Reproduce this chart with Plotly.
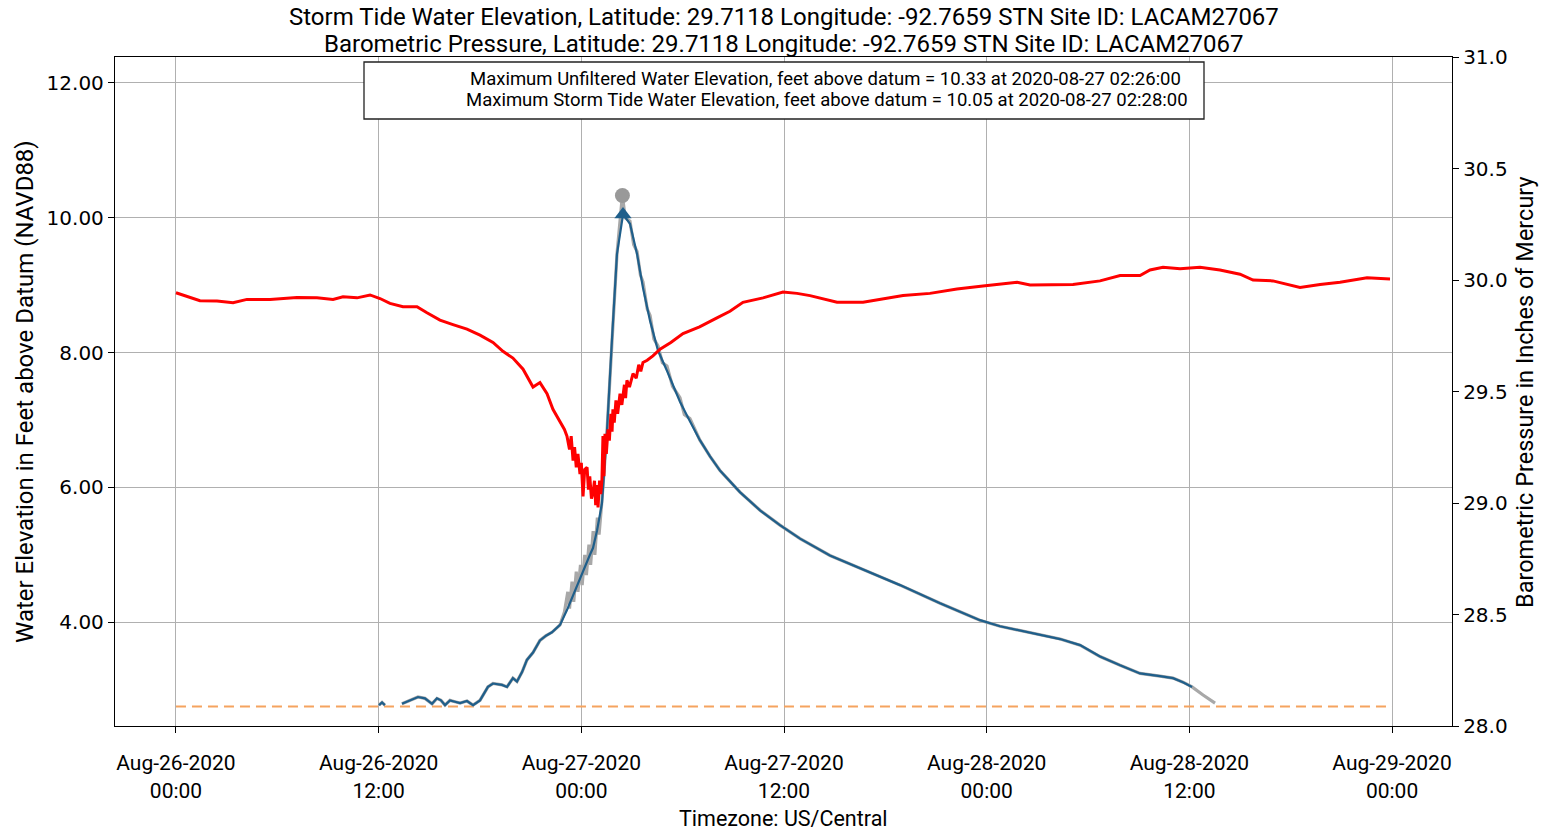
import pandas as pd
import plotly.graph_objects as go

# ---------------- data (hours since 2020-08-26 00:00 US/Central) ----------------
storm_tide_hours = [12.02, 12.20, 12.37, 12.80, 13.38, 13.86, 14.33, 14.74, 15.16, 15.45, 15.69, 15.93,
                    16.22, 16.52, 16.82, 17.23, 17.59, 18.00, 18.47, 18.77, 19.30, 19.60, 19.95, 20.19,
                    20.49, 20.78, 21.14, 21.55, 21.91, 22.26, 22.74, 23.15, 23.62, 24.10, 24.51, 24.69,
                    24.93, 25.22, 25.52, 25.82, 26.11, 26.47, 26.88, 27.30, 27.65, 28.07, 28.54, 29.07,
                    29.84, 30.43, 31.02, 31.62, 32.21, 33.39, 34.58, 35.76, 36.95, 38.72, 40.50, 42.87,
                    45.24, 47.60, 48.79, 51.16, 52.35, 53.53, 54.71, 55.90, 57.08, 58.26, 59.03, 59.62,
                    60.16]
storm_tide_ft = [2.77, 2.81, 2.77, None, 2.79, 2.84, 2.89, 2.87, 2.79, 2.87, 2.84, 2.77,
                 2.84, 2.82, 2.80, 2.83, 2.77, 2.84, 3.04, 3.09, 3.07, 3.04, 3.17, 3.12,
                 3.26, 3.44, 3.55, 3.73, 3.80, 3.85, 3.96, 4.18, 4.47, 4.77, 5.00, 5.10,
                 5.36, 5.76, 6.84, 8.22, 9.46, 10.05, 9.91, 9.46, 8.96, 8.47, 8.03, 7.73,
                 7.27, 6.98, 6.70, 6.46, 6.25, 5.93, 5.66, 5.44, 5.24, 4.99, 4.80, 4.55,
                 4.28, 4.03, 3.94, 3.82, 3.75, 3.66, 3.49, 3.36, 3.24, 3.20, 3.17, 3.11,
                 3.04]

unfiltered_hours = [12.02, 12.20, 12.37, 12.80, 13.38, 13.86, 14.33, 14.74, 15.16, 15.45, 15.69, 15.93,
                    16.22, 16.52, 16.82, 17.23, 17.59, 18.00, 18.47, 18.77, 19.30, 19.60, 19.95, 20.19,
                    20.49, 20.78, 21.14, 21.55, 21.91, 22.26, 22.74, 23.00, 23.20, 23.30, 23.45, 23.55,
                    23.70, 23.80, 23.95, 24.05, 24.20, 24.30, 24.45, 24.55, 24.70, 24.80, 24.95, 25.05,
                    25.22, 25.52, 25.82, 26.11, 26.43, 26.60, 26.88, 27.10, 27.30, 27.50, 27.65, 27.90,
                    28.07, 28.30, 28.54, 28.80, 29.07, 29.40, 29.84, 30.10, 30.43, 31.02, 31.62, 32.21,
                    33.39, 34.58, 35.76, 36.95, 38.72, 40.50, 42.87, 45.24, 47.60, 48.79, 51.16, 52.35,
                    53.53, 54.71, 55.90, 57.08, 58.26, 59.03, 59.62, 60.16, 60.81, 61.52]
unfiltered_ft = [2.77, 2.81, 2.77, None, 2.79, 2.84, 2.89, 2.87, 2.79, 2.87, 2.84, 2.77,
                 2.84, 2.82, 2.80, 2.83, 2.77, 2.84, 3.04, 3.09, 3.07, 3.04, 3.17, 3.12,
                 3.26, 3.44, 3.55, 3.73, 3.80, 3.85, 3.96, 4.15, 4.45, 4.20, 4.60, 4.30,
                 4.75, 4.45, 4.85, 4.55, 5.00, 4.70, 5.15, 4.85, 5.35, 5.00, 5.55, 5.30,
                 5.80, 6.84, 8.22, 9.46, 10.33, 10.00, 9.95, 9.60, 9.50, 9.15, 9.05, 8.65,
                 8.55, 8.20, 8.10, 7.85, 7.80, 7.50, 7.33, 7.08, 7.02, 6.70, 6.46, 6.25,
                 5.93, 5.66, 5.44, 5.24, 4.99, 4.80, 4.55, 4.28, 4.03, 3.94, 3.82, 3.75,
                 3.66, 3.49, 3.36, 3.24, 3.20, 3.17, 3.11, 3.04, 2.92, 2.80]

max_unfiltered_hour = 26.433   # 2020-08-27 02:26
max_unfiltered_ft = 10.33
max_storm_tide_hour = 26.467   # 2020-08-27 02:28
max_storm_tide_ft = 10.05

sensor_min_hours = [0.0, 72.0]
sensor_min_ft = [2.75, 2.75]

pressure_hours = [0.0, 0.65, 1.42, 2.43, 3.38, 4.20, 5.57, 7.16, 8.35, 9.30, 9.89, 10.72, 11.49, 12.08,
                  12.67, 13.44, 14.27, 14.86, 15.63, 16.40, 17.23, 18.00, 18.77, 19.36, 19.95, 20.55,
                  21.14, 21.55, 21.97, 22.32, 22.74, 23.00, 23.15, 23.30, 23.40, 23.51, 23.60, 23.70,
                  23.80, 23.92, 24.00, 24.10, 24.20, 24.34, 24.42, 24.50, 24.60, 24.69, 24.78, 24.85,
                  24.92, 24.99, 25.08, 25.15, 25.22, 25.28, 25.34, 25.40, 25.48, 25.58, 25.66, 25.75,
                  25.82, 25.87, 25.95, 26.05, 26.15, 26.29, 26.40, 26.55, 26.62, 26.70, 26.85, 27.06,
                  27.25, 27.40, 27.52, 27.65, 27.90, 28.24, 28.66, 29.30, 30.02, 31.00, 32.03, 32.80,
                  33.57, 34.76, 35.94, 36.77, 37.54, 38.31, 39.14, 40.68, 41.86, 43.05, 44.64, 46.24,
                  47.78, 48.79, 49.80, 50.57, 51.75, 53.11, 54.71, 55.90, 57.08, 57.67, 58.44, 59.45,
                  60.63, 61.81, 63.00, 63.77, 64.95, 66.55, 67.74, 68.92, 70.52, 71.88]
pressure_inhg = [29.943, 29.928, 29.907, 29.906, 29.898, 29.913, 29.913, 29.922, 29.920, 29.913, 29.925,
                 29.920, 29.933, 29.917, 29.895, 29.880, 29.880, 29.853, 29.820, 29.800, 29.780, 29.753,
                 29.720, 29.680, 29.650, 29.600, 29.520, 29.540, 29.490, 29.420, 29.360, 29.330, 29.300,
                 29.24, 29.30, 29.19, 29.25, 29.16, 29.22, 29.13, 29.18, 29.03, 29.15, 29.16, 29.06,
                 29.12, 29.02, 29.045, 29.10, 28.99, 29.08, 28.98, 29.10, 29.04, 29.10, 29.30, 29.12,
                 29.31, 29.22, 29.33, 29.28, 29.40, 29.32, 29.42, 29.36, 29.46, 29.40, 29.49, 29.44,
                 29.53, 29.47, 29.55, 29.52, 29.58, 29.56, 29.62, 29.59, 29.63, 29.64, 29.66, 29.69,
                 29.72, 29.76, 29.79, 29.83, 29.86, 29.90, 29.92, 29.946, 29.94, 29.93, 29.915, 29.90,
                 29.90, 29.915, 29.93, 29.94, 29.96, 29.973, 29.982, 29.99, 29.978, 29.98, 29.98,
                 29.996, 30.02, 30.02, 30.045, 30.057, 30.05, 30.057, 30.045, 30.026, 30.00, 29.996,
                 29.967, 29.98, 29.99, 30.01, 30.005]

tick_hours = [0, 12, 24, 36, 48, 60, 72]
tick_labels = ["Aug-26-2020<br>00:00", "Aug-26-2020<br>12:00", "Aug-27-2020<br>00:00",
               "Aug-27-2020<br>12:00", "Aug-28-2020<br>00:00", "Aug-28-2020<br>12:00",
               "Aug-29-2020<br>00:00"]

title_lines = ["Storm Tide Water Elevation, Latitude: 29.7118 Longitude: -92.7659 STN Site ID: LACAM27067",
               "Barometric Pressure, Latitude: 29.7118 Longitude: -92.7659 STN Site ID: LACAM27067"]
note_lines = ["Maximum Unfiltered Water Elevation, feet above datum = 10.33 at 2020-08-27 02:26:00",
              "Maximum Storm Tide Water Elevation, feet above datum = 10.05 at 2020-08-27 02:28:00"]
x_title = "Timezone: US/Central"
y_title = "Water Elevation in Feet above Datum (NAVD88)"
y2_title = "Barometric Pressure in Inches of Mercury"

# ---------------- helpers ----------------
BASE = pd.Timestamp("2020-08-26 00:00")


def to_time(hours):
    return [BASE + pd.Timedelta(hours=h) for h in hours]


NARROW = "Roboto, Liberation Sans, sans-serif"
WIDE = "DejaVu Sans, Verdana, sans-serif"
BLUE = "#1f5f8b"
GRAY = "#a8a8a8"
GRID = "#b0b0b0"

FW, FH = 1543, 832
PL, PR, PT, PB = 115, 1452, 57, 726
PW, PH = PR - PL, PB - PT


def px_x(x):
    return (x - PL) / PW


def px_y(y):
    return 1 - (y - PT) / PH


fig = go.Figure()

fig.add_trace(go.Scatter(x=to_time(sensor_min_hours), y=sensor_min_ft, mode="lines",
                         line=dict(color="#f5a35f", width=2, dash="10px,6px"),
                         showlegend=False, hoverinfo="skip"))
fig.add_trace(go.Scatter(x=to_time(unfiltered_hours), y=unfiltered_ft, mode="lines",
                         line=dict(color=GRAY, width=3.2), connectgaps=False,
                         name="Unfiltered water elevation", showlegend=False))
fig.add_trace(go.Scatter(x=to_time(storm_tide_hours), y=storm_tide_ft, mode="lines",
                         line=dict(color=BLUE, width=2.2), connectgaps=False,
                         name="Storm tide water elevation", showlegend=False))
fig.add_trace(go.Scatter(x=to_time([max_unfiltered_hour]), y=[max_unfiltered_ft], mode="markers",
                         marker=dict(symbol="circle", size=15, color="#999999"),
                         showlegend=False))
fig.add_trace(go.Scatter(x=to_time([max_storm_tide_hour]), y=[max_storm_tide_ft], mode="markers",
                         marker=dict(symbol="triangle-up", size=15, color=BLUE),
                         showlegend=False))
fig.add_trace(go.Scatter(x=to_time(pressure_hours), y=pressure_inhg, mode="lines", yaxis="y2",
                         line=dict(color="#ff0000", width=3),
                         name="Barometric pressure", showlegend=False))

annotations = [
    dict(text=title_lines[0], x=px_x(783.5), y=px_y(17), xanchor="center", yanchor="middle",
         font=dict(family=NARROW, size=24, color="black")),
    dict(text=title_lines[1], x=px_x(783.5), y=px_y(44), xanchor="center", yanchor="middle",
         font=dict(family=NARROW, size=24, color="black")),
    dict(text=note_lines[0], x=px_x(1183), y=px_y(78.5), xanchor="right", yanchor="middle",
         font=dict(family=NARROW, size=18.5, color="black")),
    dict(text=note_lines[1], x=px_x(1190), y=px_y(99.5), xanchor="right", yanchor="middle",
         font=dict(family=NARROW, size=18.5, color="black")),
    dict(text=x_title, x=px_x(783.5), y=px_y(818), xanchor="center", yanchor="middle",
         font=dict(family=NARROW, size=21.5, color="black")),
    dict(text=y_title, x=px_x(25), y=px_y(392), xanchor="center", yanchor="middle", textangle=-90,
         font=dict(family=NARROW, size=24, color="black")),
    dict(text=y2_title, x=px_x(1525), y=px_y(392), xanchor="center", yanchor="middle", textangle=-90,
         font=dict(family=NARROW, size=23.5, color="black")),
]
for a in annotations:
    a.update(xref="paper", yref="paper", showarrow=False)

fig.update_layout(
    width=FW, height=FH,
    margin=dict(l=PL, r=FW - PR, t=PT, b=FH - PB, autoexpand=False),
    paper_bgcolor="white", plot_bgcolor="white",
    showlegend=False,
    xaxis=dict(
        type="date", automargin=False,
        range=[BASE + pd.Timedelta(hours=-3.61), BASE + pd.Timedelta(hours=75.55)],
        tickmode="array", tickvals=to_time(tick_hours), ticktext=tick_labels,
        tickfont=dict(family=NARROW, size=21, color="black"),
        ticks="outside", ticklen=6, tickcolor="black", ticklabelstandoff=12,
        showgrid=True, gridcolor=GRID, gridwidth=1.3,
        showline=True, linecolor="black", linewidth=1.3, mirror=True, zeroline=False,
    ),
    yaxis=dict(
        automargin=False,
        range=[2.46, 12.385],
        tickmode="array", tickvals=[4, 6, 8, 10, 12], tickformat=".2f",
        tickfont=dict(family=WIDE, size=20, color="black"),
        ticks="outside", ticklen=6, tickcolor="black",
        showgrid=True, gridcolor=GRID, gridwidth=1.3,
        showline=True, linecolor="black", linewidth=1.3, mirror=True, zeroline=False,
    ),
    yaxis2=dict(
        overlaying="y", side="right", anchor="x", automargin=False,
        range=[28.0, 31.0], tickmode="linear", tick0=28.0, dtick=0.5, tickformat=".1f",
        tickfont=dict(family=WIDE, size=20, color="black"),
        ticks="outside", ticklen=6, tickcolor="black",
        showgrid=False, zeroline=False, showline=True, linecolor="black", linewidth=1.3,
    ),
    shapes=[dict(type="rect", xref="paper", yref="paper",
                 x0=px_x(364), x1=px_x(1204), y0=px_y(119), y1=px_y(62),
                 line=dict(color="#222222", width=1.3), fillcolor="white", layer="above")],
    annotations=annotations,
)

# remove the default 8px page margin so the figure fills the window exactly
fig.write_html("out.html", config={"displayModeBar": False},
               post_script="document.body.style.margin='0px';")
